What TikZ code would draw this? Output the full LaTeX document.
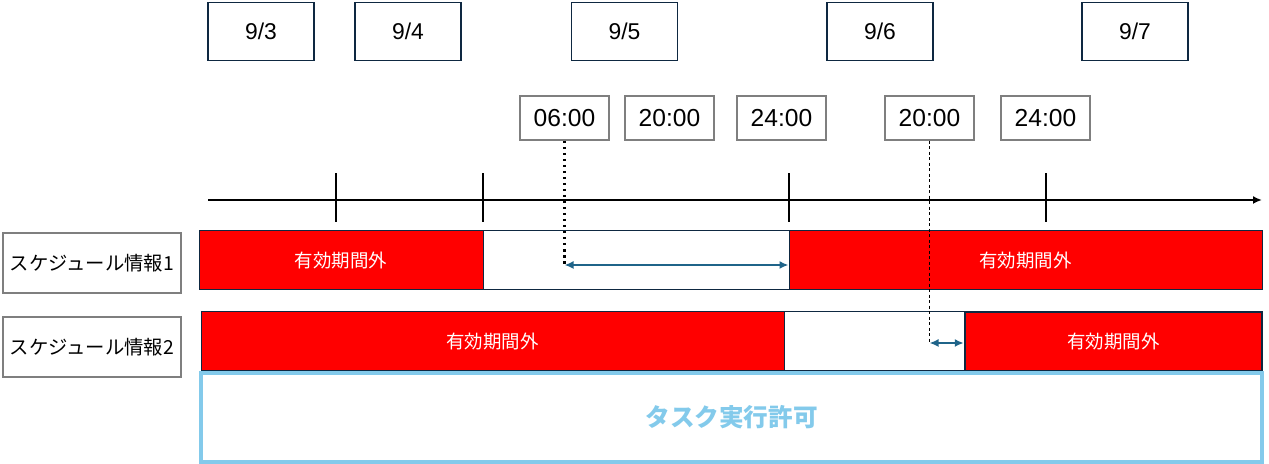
\documentclass[tikz,border=0pt]{standalone}
\usepackage{fontspec}
\setmainfont{Liberation Sans}
\newfontfamily\jpfont{Noto Sans CJK JP}
\usetikzlibrary{arrows.meta}
\definecolor{navyline}{HTML}{0E2841}
\definecolor{greyline}{HTML}{7F7F7F}
\definecolor{arrowblue}{HTML}{1F6489}
\definecolor{skyline}{HTML}{83CAEB}
\tikzset{
  datebox/.style={draw=navyline, line width=0.03cm, fill=white, minimum width=2.12cm, minimum height=1.16cm, font=\fontsize{13}{15}\selectfont},
  timebox/.style={draw=greyline, line width=0.03cm, minimum width=1.78cm, minimum height=0.88cm, font=\fontsize{14}{16}\selectfont},
  labelbox/.style={draw=greyline, line width=0.04cm, minimum width=3.56cm, minimum height=1.2cm, font=\jpfont\fontsize{11}{13}\selectfont},
  offbar/.style={draw=navyline, line width=0.02cm, fill=red, text=white, inner sep=0pt, minimum height=1.18cm, font=\jpfont\fontsize{10.5}{12}\selectfont},
  span/.style={{Latex[length=0.18cm,width=0.16cm]}-{Latex[length=0.18cm,width=0.16cm]}, draw=arrowblue, line width=0.035cm},
}
\begin{document}
\begin{tikzpicture}
            \useasboundingbox (0,0) rectangle (25.38,9.28);

            % Marking dates
            \node [datebox] (d93) at (5.22,8.65) {9/3};
            \node [datebox] (d94) at (8.16,8.65) {9/4};
            \node [datebox] (d95) at (12.49,8.65) {9/5};
            \node [datebox] (d96) at (17.60,8.65) {9/6};
            \node [datebox] (d97) at (22.70,8.65) {9/7};

            % Marking times
            \node [timebox] (ta) at (11.29,6.92) {06:00};
            \node [timebox] (tb) at (13.39,6.92) {20:00};
            \node [timebox] (tc) at (15.63,6.92) {24:00};
            \node [timebox] (td) at (18.59,6.92) {20:00};
            \node [timebox] (te) at (20.91,6.92) {24:00};

            % Drawing time axis
            \draw [line width=0.05cm, -{Latex[length=0.18cm,width=0.16cm]}] (4.16,5.28) -- (25.24,5.28);%
            \foreach \x in {6.72,9.66}
              \draw [line width=0.05cm] (\x,4.84) -- (\x,5.82);%
            \foreach \x in {15.78,20.92}
              \draw [line width=0.035cm] (\x,4.84) -- (\x,5.82);%

            % Schedule labels
            \node [labelbox] (lab1) at (1.84,4.02) {スケジュール情報1};
            \node [labelbox] (lab2) at (1.84,2.33) {スケジュール情報2};

            % Drawing row 1
            \draw [navyline, line width=0.02cm] (3.98,3.48) rectangle (25.24,4.66);%
            \node [offbar, minimum width=5.68cm] (offA) at (6.82,4.07) {有効期間外};
            \node [offbar, minimum width=9.46cm] (offB) at (20.51,4.07) {有効期間外};

            % Drawing row 2
            \draw [navyline, line width=0.02cm] (4.02,1.86) rectangle (25.24,3.04);%
            \node [offbar, minimum width=11.66cm] (offC) at (9.85,2.45) {有効期間外};
            \node [offbar, line width=0.05cm, minimum width=5.94cm] (offD) at (22.27,2.45) {有効期間外};

            % Task permission box
            \node [draw=skyline, line width=0.07cm, minimum width=21.22cm, minimum height=1.78cm, text=skyline, font=\jpfont\bfseries\fontsize{14}{16}\selectfont] (permit) at (14.63,0.93) {タスク実行許可};

            % Drawing spans
            \coordinate (sa) at (ta.south |- 0,3.98);
            \coordinate (sd) at (td.south |- 0,2.42);
            \draw [line width=0.05cm, dotted] (ta.south) -- (sa);%
            \draw [line width=0.035cm, dash pattern=on 0.06cm off 0.05cm] (td.south) -- (sd);%
            \draw [span] (sa) -- (offB.west |- sa);%
            \draw [span] (sd) -- (offD.west |- sd);%
\end{tikzpicture}
\end{document}
